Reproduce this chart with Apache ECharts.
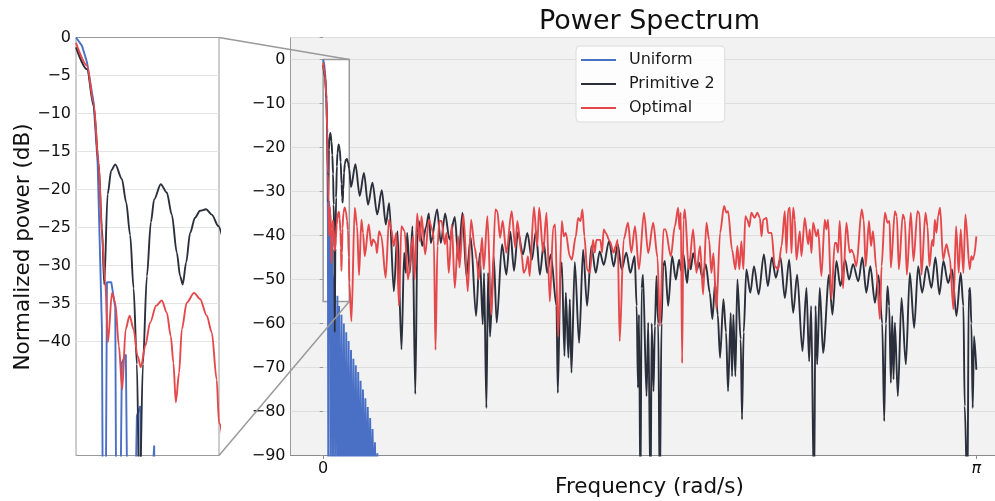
<!DOCTYPE html>
<html>
<head>
<meta charset="utf-8">
<title>Power Spectrum</title>
<script src="https://cdn.jsdelivr.net/npm/echarts@6.0.0/dist/echarts.min.js"></script>
<style>
  html, body { margin: 0; padding: 0; background: #fff; }
  #chart { width: 995px; height: 501px; }
</style>
</head>
<body>
<div id="chart"></div>
<script>
// frequency (rad/s), normalized power (dB)
const uniform = [
  [0, 0], [0.0053, -1.1], [0.0097, -3.3], [0.0155, -8.6], [0.019, -16.5], [0.0213, -29.6], [0.0228, -38.4], [0.0248, -100],
  [0.0272, -32.2], [0.031, -32.2], [0.0345, -35.5], [0.0365, -100],
  [0.0403, -42.8], [0.0438, -41.7], [0.0476, -100],
  [0.0535, -49.8], [0.0564, -48.5], [0.0593, -100],
  [0.064, -66], [0.0687, -53.7], [0.0708, -100],
  [0.0765, -56], [0.0823, -100], [0.088, -58], [0.0938, -100], [0.0995, -60], [0.1053, -100],
  [0.111, -62], [0.1168, -100], [0.1225, -64], [0.1283, -100], [0.134, -66], [0.1398, -100],
  [0.1455, -68], [0.1513, -100], [0.157, -69.5], [0.1628, -100], [0.1685, -71], [0.1743, -100],
  [0.18, -73], [0.1858, -100], [0.1915, -75], [0.1973, -100], [0.203, -77], [0.2088, -100],
  [0.2145, -79], [0.2203, -100], [0.226, -81.5], [0.2318, -100], [0.2375, -84], [0.2433, -100],
  [0.249, -87], [0.2548, -100], [0.2605, -89.5], [0.2663, -100]
]

const primitive2 = [
  [0, -1.3], [0.0097, -4.2], [0.0155, -9.0], [0.0199, -16.5], [0.0228, -25.0], [0.0248, -32.5],
  [0.0278, -20.6], [0.031, -17.5], [0.0345, -16.7], [0.0403, -18.6], [0.0441, -21.7], [0.0476, -26.0],
  [0.0506, -33.0], [0.0535, -43.0], [0.0558, -62.0], [0.0588, -43.0], [0.0623, -31.4], [0.0658, -24.3],
  [0.0687, -21.3], [0.0745, -19.3], [0.0798, -20.4], [0.0842, -23.3], [0.0886, -28.3], [0.0915, -31.4],
  [0.0938, -32.5], [0.0968, -29.6], [0.1003, -25.7], [0.1046, -23.7], [0.109, -22.8], [0.1143, -22.6],
  [0.1193, -23.3], [0.1251, -24.8],
  [0.134, -29.0], [0.155, -23.8], [0.176, -31.0], [0.196, -25.8], [0.216, -33.0], [0.237, -28.0],
  [0.26, -35.2], [0.282, -29.7], [0.3015, -37.5], [0.3175, -32.6], [0.34, -52.7], [0.3576, -39.0],
  [0.3768, -65.9], [0.3896, -43.9], [0.3976, -48.5], [0.404, -39.4], [0.4169, -48.5], [0.4297, -37.9],
  [0.443, -76.0],
  [0.4539, -39.4], [0.4603, -36.7], [0.4763, -42.4], [0.495, -38.0], [0.5083, -35.0], [0.5179, -41.7],
  [0.5483, -34.1], [0.5659, -41.7], [0.5867, -35.0], [0.6075, -40.9], [0.6331, -35.8], [0.6507, -45.5],
  [0.6699, -34.8], [0.6891, -49.2], [0.7099, -40.4], [0.7355, -58.3], [0.7531, -44.0], [0.7675, -60.2],
  [0.7739, -48.5], [0.7851, -79.2], [0.7931, -48.5], [0.8027, -63.0], [0.8203, -44.7], [0.8347, -59.8],
  [0.8603, -42.0], [0.8811, -48.9], [0.9003, -39.2], [0.9179, -48.0], [0.9371, -39.2], [0.9611, -44.3],
  [0.9819, -39.4], [1.0043, -45.5],
  [1.023, -39.0], [1.0422, -48.9], [1.0614, -41.7], [1.0774, -48.5], [1.095, -44.3], [1.1222, -56.0],
  [1.1286, -75.8], [1.1414, -48.5], [1.1478, -46.1], [1.1606, -67.4], [1.167, -53.0], [1.1798, -67.8],
  [1.1862, -54.5], [1.1942, -71.2], [1.2102, -46.0], [1.231, -64.4], [1.2502, -43.2], [1.2694, -56.0],
  [1.2902, -42.4], [1.311, -48.5], [1.3302, -43.6], [1.3494, -46.7], [1.375, -41.3], [1.3974, -47.0],
  [1.4166, -42.0], [1.4358, -47.7], [1.4582, -43.9], [1.4774, -48.5], [1.4982, -44.7], [1.5078, -56.0],
  [1.5142, -74.6], [1.519, -58.0], [1.526, -100], [1.5318, -52.0], [1.5382, -48.9],
  [1.5554, -76.5], [1.5634, -59.8], [1.575, -100], [1.58, -60.0], [1.589, -75.4], [1.5954, -60.6],
  [1.6034, -49.2], [1.6114, -60.0], [1.619, -100], [1.6274, -60.0], [1.6354, -47.0], [1.6434, -45.8],
  [1.6594, -56.0], [1.6786, -44.7], [1.6962, -50.0], [1.7122, -45.5], [1.7218, -48.0], [1.7314, -44.0],
  [1.7506, -50.8], [1.7602, -45.5], [1.7682, -47.7], [1.7794, -44.0], [1.7986, -47.7], [1.8082, -46.2],
  [1.8242, -49.6], [1.8402, -46.5], [1.8594, -53.0], [1.8722, -59.0], [1.885, -50.8], [1.8978, -58.0],
  [1.909, -67.8], [1.925, -54.5], [1.9378, -62.0], [1.9474, -75.4], [1.9602, -57.6], [1.9666, -72.0],
  [1.973, -58.0], [1.9826, -72.0], [1.9922, -50.0], [2.0082, -63.6], [2.0146, -81.8], [2.0226, -62.0],
  [2.0354, -47.7], [2.0546, -53.0], [2.0722, -47.0], [2.0946, -53.4],
  [2.1197, -44.3], [2.1389, -51.5], [2.1581, -45.0], [2.1773, -49.6], [2.1997, -45.0], [2.2205, -54.2],
  [2.2413, -45.5], [2.2605, -57.6], [2.2797, -48.9], [2.3053, -66.3], [2.3245, -51.9], [2.3373, -68.6],
  [2.347, -56.0], [2.361, -100], [2.368, -56.0], [2.376, -69.3], [2.3885, -51.9], [2.4045, -66.7],
  [2.4333, -48.9], [2.4493, -58.0], [2.4685, -45.8], [2.4877, -51.5], [2.5101, -45.5], [2.5293, -50.0],
  [2.5485, -46.5], [2.5741, -50.4], [2.5933, -45.0], [2.6125, -53.0], [2.6317, -47.0], [2.6541, -55.3],
  [2.671, -49.0],
  [2.6889, -60.0], [2.6985, -82.2], [2.7065, -60.0], [2.7145, -51.5], [2.7225, -56.0], [2.7305, -73.5],
  [2.7369, -58.3], [2.7433, -72.7], [2.7497, -59.8], [2.7641, -76.5], [2.7817, -54.2], [2.8025, -69.3],
  [2.8217, -48.5], [2.8425, -61.0], [2.8617, -47.0], [2.8809, -53.0], [2.9033, -47.0], [2.9257, -51.9],
  [2.9449, -45.0], [2.9641, -53.4], [2.9833, -45.8], [3.0057, -50.8], [3.0249, -47.7], [3.0457, -58.3],
  [3.0665, -48.5], [3.0793, -56.0], [3.0857, -78.8], [3.099, -100], [3.1049, -53.0], [3.1113, -51.9],
  [3.1177, -60.0], [3.1241, -79.2], [3.1305, -62.9], [3.1416, -70.5]
]

const optimal = [
  [0, -0.7], [0.0097, -3.7], [0.0155, -8.6], [0.0199, -16.5], [0.0228, -26.0], [0.0257, -32.2],
  [0.0281, -40.1], [0.0316, -33.6], [0.0345, -34.9], [0.0377, -40.6], [0.0406, -46.3], [0.0436, -38.4],
  [0.0471, -36.6], [0.0506, -38.4], [0.0541, -41.9], [0.057, -43.4], [0.0608, -40.6], [0.0652, -37.5],
  [0.0704, -35.3], [0.0754, -34.6], [0.0798, -36.2], [0.0833, -39.3], [0.0856, -42.8], [0.0877, -48.0],
  [0.0906, -44.1], [0.093, -38.4], [0.0973, -34.9], [0.1038, -33.6], [0.109, -34.4], [0.1149, -36.6],
  [0.1193, -38.8], [0.1236, -45.0], [0.1257, -50.7],
  [0.1359, -59.5], [0.1519, -33.7], [0.1631, -37.9], [0.1727, -49.0], [0.1839, -36.4], [0.1919, -39.4],
  [0.1999, -44.7], [0.2191, -37.5], [0.2319, -42.4], [0.2399, -40.9], [0.2527, -41.7], [0.2591, -44.0],
  [0.2687, -39.0], [0.2799, -40.2], [0.3007, -49.6], [0.3167, -36.4], [0.3279, -38.6], [0.3391, -42.4],
  [0.3519, -39.4], [0.3647, -56.0], [0.3759, -37.9], [0.3919, -39.0], [0.4079, -50.0], [0.4319, -40.2],
  [0.4399, -50.0], [0.452, -35.0],
  [0.4651, -41.3], [0.4731, -35.6], [0.4907, -44.3], [0.5083, -36.4], [0.5243, -38.6], [0.5323, -40.9],
  [0.5403, -66.0], [0.5499, -42.4], [0.5595, -36.7], [0.5691, -36.7], [0.5851, -42.0], [0.5931, -39.4],
  [0.6043, -48.5], [0.6187, -37.5], [0.6331, -51.9], [0.6491, -40.2], [0.6555, -47.3], [0.6747, -35.2],
  [0.6955, -52.7], [0.7115, -36.4], [0.7291, -42.8], [0.7387, -45.5], [0.7483, -50.0], [0.7643, -40.5],
  [0.7723, -47.7], [0.7899, -35.6], [0.8091, -58.0], [0.8283, -34.1], [0.8379, -34.5], [0.8507, -40.5],
  [0.8635, -36.7], [0.8811, -43.9], [0.9067, -34.5], [0.9243, -42.8], [0.9339, -36.7], [0.9547, -44.3],
  [0.9643, -48.5], [0.9739, -47.7], [0.9851, -44.7], [0.9931, -49.2], [1.0139, -33.5],
  [1.0294, -42.4], [1.039, -33.7], [1.0582, -43.9], [1.0742, -34.8], [1.0902, -55.0], [1.1062, -38.2],
  [1.1158, -37.5], [1.1302, -63.0], [1.1478, -36.7], [1.1574, -40.2], [1.167, -39.4], [1.1862, -44.7],
  [1.1958, -45.5], [1.215, -40.2], [1.2262, -36.0], [1.2374, -36.7], [1.247, -34.1], [1.2566, -40.2],
  [1.2694, -47.7], [1.2822, -48.5], [1.2982, -41.0], [1.3062, -43.9], [1.3142, -41.0], [1.3334, -41.0],
  [1.3414, -43.9], [1.3494, -38.6], [1.359, -39.4], [1.3782, -41.3], [1.3974, -43.9], [1.407, -42.4],
  [1.4166, -41.0], [1.4262, -64.0], [1.4454, -40.9], [1.4662, -37.1], [1.4822, -43.9], [1.4998, -37.9],
  [1.519, -47.7], [1.543, -34.8],
  [1.5634, -44.0], [1.5874, -37.1], [1.6082, -45.0], [1.6194, -60.6], [1.637, -38.6], [1.6466, -38.6],
  [1.6722, -44.7], [1.6914, -37.9], [1.7074, -33.7], [1.7138, -38.6], [1.7202, -34.8], [1.7266, -69.0],
  [1.733, -36.4], [1.7394, -34.1], [1.7586, -47.7], [1.7794, -38.6], [1.7954, -48.5], [1.813, -42.4],
  [1.8274, -53.4], [1.8434, -37.1], [1.8562, -41.0], [1.8674, -48.5], [1.877, -44.0], [1.8914, -56.8],
  [1.909, -39.4], [1.9282, -33.3], [1.9394, -34.8], [1.9474, -34.5], [1.9666, -43.2], [1.9826, -47.7],
  [1.9922, -42.4], [2.0018, -47.7], [2.0114, -41.3], [2.021, -47.7], [2.0306, -35.6], [2.0402, -36.4],
  [2.0498, -38.0], [2.0594, -34.8], [2.0754, -36.0], [2.0882, -34.8],
  [2.1005, -36.0], [2.1085, -40.2], [2.1165, -36.4], [2.1325, -36.0], [2.1405, -39.4], [2.1565, -39.4],
  [2.1725, -47.0], [2.1885, -47.7], [2.2045, -42.4], [2.2205, -34.5], [2.2285, -44.0], [2.2365, -34.1],
  [2.2445, -33.7], [2.2525, -44.0], [2.2605, -33.7], [2.2685, -36.4], [2.2765, -45.5], [2.2925, -39.0],
  [2.3005, -44.7], [2.3165, -36.0], [2.3325, -42.0], [2.3405, -38.6], [2.3485, -44.0], [2.3565, -37.1],
  [2.3725, -40.2], [2.3805, -38.6], [2.3965, -49.2], [2.4125, -36.4], [2.4205, -38.6], [2.4285, -36.4],
  [2.4445, -54.5], [2.4605, -41.7], [2.4685, -41.7], [2.4765, -43.9], [2.4845, -36.7], [2.5005, -52.0],
  [2.5165, -37.1], [2.5325, -43.9], [2.5405, -43.2], [2.5485, -43.9], [2.5645, -47.0], [2.5901, -34.1],
  [2.5997, -36.4], [2.6093, -47.0], [2.6253, -36.7], [2.6349, -42.4], [2.6445, -39.0], [2.6605, -47.5],
  [2.6777, -59.0],
  [2.6857, -47.0], [2.7017, -34.8], [2.7145, -37.1], [2.7241, -36.7], [2.7305, -47.3], [2.7497, -34.5],
  [2.7593, -35.6], [2.7689, -47.7], [2.7881, -35.2], [2.7977, -36.4], [2.8073, -48.9], [2.8265, -34.8],
  [2.8393, -45.8], [2.8585, -34.5], [2.8681, -35.0], [2.8777, -48.9], [2.8969, -34.8], [2.9065, -37.9],
  [2.9161, -47.0], [2.9289, -41.0], [2.9353, -42.4], [2.9417, -36.4], [2.9497, -39.4], [2.9577, -35.6],
  [2.9673, -33.7], [2.9817, -45.5], [2.9977, -42.0], [3.0137, -45.0], [3.0313, -56.8], [3.0441, -37.9],
  [3.0569, -48.5], [3.0665, -38.6], [3.0793, -48.5], [3.0889, -35.2], [3.1097, -47.7], [3.1177, -44.7],
  [3.1241, -45.5], [3.1305, -44.7], [3.1416, -40.2]
]

const seriesNames = ['Uniform', 'Primitive 2', 'Optimal']
const seriesColors = ['#4a70c6', '#2a2f3b', '#e5484b']
const seriesSmooth = [false, 0.3, 0.3]
const xTickValues = [0, Math.PI]
const xTickLabels = ['0', 'π']
const insetFreqMax = 0.04 * Math.PI
const insetDbMin = -55
const insetLabelFloor = -40

const minus = (v) => String(v).replace('-', '\u2212')
const font = 'DejaVu Sans'

const chart = echarts.init(document.getElementById('chart'), null, { renderer: 'canvas' })

function lineSeries(i, idx) {
  const color = seriesColors[i]
  return {
    name: seriesNames[i],
    type: 'line',
    data: [uniform, primitive2, optimal][i],
    xAxisIndex: idx,
    yAxisIndex: idx,
    showSymbol: false,
    symbol: 'none',
    clip: true,
    smooth: seriesSmooth[i],
    smoothMonotone: 'x',
    z: 3,
    lineStyle: { color: color, width: 1.9 },
    itemStyle: { color: color },
    emphasis: { disabled: true }
  }
}

const series = []
for (let g = 0; g < 2; g++) {
  for (let i = 0; i < 3; i++) series.push(lineSeries(i, g))
}
// white zoom box on the main axes
series.push({
  name: 'zoom box',
  type: 'line',
  data: [],
  xAxisIndex: 1,
  yAxisIndex: 1,
  z: 1,
  markArea: {
    silent: true,
    itemStyle: { color: '#ffffff', borderColor: '#9a9a9a', borderWidth: 1.5 },
    data: [[{ coord: [0, 0] }, { coord: [insetFreqMax, insetDbMin] }]]
  }
})

// inset grid lines only from -5 to -40
const insetSplitColors = []
for (let v = insetDbMin; v <= 0; v += 5) {
  insetSplitColors.push(v >= insetLabelFloor && v < 0 ? '#e4e4e4' : 'rgba(0,0,0,0)')
}

chart.setOption({
  animation: false,
  backgroundColor: '#ffffff',
  textStyle: { fontFamily: font },
  legend: {
    data: seriesNames,
    orient: 'vertical',
    left: 576,
    top: 46,
    padding: [6, 10, 6, 5],
    itemGap: 8,
    itemWidth: 35,
    itemHeight: 2,
    icon: 'rect',
    backgroundColor: 'rgba(255,255,255,0.85)',
    borderColor: '#dcdcdc',
    borderWidth: 1,
    borderRadius: 4,
    textStyle: { fontSize: 16, lineHeight: 16, color: '#1a1a1a', fontFamily: font, padding: [0, 0, 0, 8] }
  },
  grid: [
    {
      left: 76, top: 37.5, width: 143, height: 418,
      show: true, backgroundColor: '#ffffff', borderColor: '#9a9a9a', borderWidth: 1,
      outerBoundsMode: 'none'
    },
    {
      left: 290.5, top: 37.5, width: 718.5, height: 418,
      show: true, backgroundColor: '#f2f2f2', borderColor: '#9a9a9a', borderWidth: 1,
      outerBoundsMode: 'none'
    }
  ],
  xAxis: [
    {
      gridIndex: 0, type: 'value', min: 0, max: insetFreqMax,
      axisLine: { show: false }, axisTick: { show: false }, axisLabel: { show: false }, splitLine: { show: false }
    },
    {
      gridIndex: 1, type: 'value', min: -0.05 * Math.PI, max: 1.05 * Math.PI,
      axisLine: { show: true, onZero: false, lineStyle: { color: '#8a8a8a', width: 1 } },
      axisTick: { show: true, customValues: xTickValues, length: 3.5, lineStyle: { color: '#8a8a8a' } },
      axisLabel: {
        customValues: xTickValues,
        margin: 5,
        fontSize: 16,
        color: '#111',
        fontFamily: font,
        formatter: (v) => Math.abs(v) < 1e-9 ? xTickLabels[0] : '{pi|' + xTickLabels[1] + '}',
        rich: { pi: { fontStyle: 'italic', fontSize: 16, fontFamily: font, color: '#111' } }
      },
      splitLine: { show: false }
    }
  ],
  yAxis: [
    {
      gridIndex: 0, type: 'value', min: insetDbMin, max: 0, interval: 5,
      axisLine: { show: false },
      axisTick: { show: false },
      axisLabel: {
        margin: 5, fontSize: 16, color: '#111', fontFamily: font,
        formatter: (v) => v < insetLabelFloor ? '' : minus(v)
      },
      splitLine: { show: true, lineStyle: { color: insetSplitColors, width: 1 } }
    },
    {
      gridIndex: 1, type: 'value', min: -90, max: 5, interval: 10,
      axisLine: { show: false },
      axisTick: { show: true, length: 3.5, lineStyle: { color: '#9a9a9a' } },
      axisLabel: {
        margin: 5, fontSize: 16, color: '#111', fontFamily: font,
        formatter: (v) => v > 0 ? '' : minus(v)
      },
      splitLine: { show: true, lineStyle: { color: '#dedede', width: 1 } }
    }
  ],
  series: series
})

// connector lines from the inset to the zoom box, plus titles
const insetTop = chart.convertToPixel({ gridIndex: 0 }, [insetFreqMax, 0])
const insetBottom = chart.convertToPixel({ gridIndex: 0 }, [insetFreqMax, insetDbMin])
const boxTop = chart.convertToPixel({ gridIndex: 1 }, [insetFreqMax, 0])
const boxBottom = chart.convertToPixel({ gridIndex: 1 }, [insetFreqMax, insetDbMin])

chart.setOption({
  graphic: [
    {
      type: 'line', z: 10, silent: true,
      shape: { x1: insetTop[0], y1: insetTop[1], x2: boxTop[0], y2: boxTop[1] },
      style: { stroke: '#9a9a9a', lineWidth: 1.5 }
    },
    {
      type: 'line', z: 10, silent: true,
      shape: { x1: insetBottom[0], y1: insetBottom[1], x2: boxBottom[0], y2: boxBottom[1] },
      style: { stroke: '#9a9a9a', lineWidth: 1.5 }
    },
    {
      type: 'text', x: 649.5, y: 22, silent: true,
      style: { text: 'Power Spectrum', fontSize: 27, fontFamily: font, fill: '#111', align: 'center', verticalAlign: 'middle' }
    },
    {
      type: 'text', x: 649.5, y: 487, silent: true,
      style: { text: 'Frequency (rad/s)', fontSize: 21.5, fontFamily: font, fill: '#111', align: 'center', verticalAlign: 'middle' }
    },
    {
      type: 'text', x: 23, y: 247, rotation: Math.PI / 2, silent: true,
      style: { text: 'Normalized power (dB)', fontSize: 21.5, fontFamily: font, fill: '#111', align: 'center', verticalAlign: 'middle' }
    }
  ]
})
</script>
</body>
</html>
